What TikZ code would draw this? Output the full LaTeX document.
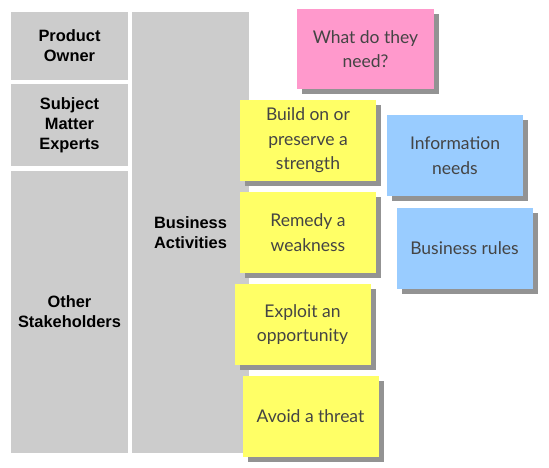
\documentclass[tikz,border=0pt]{standalone}
\usepackage{fontspec}
\setmainfont{Liberation Sans}
\newfontfamily\notefont{Lato}
\usetikzlibrary{shadows}
\definecolor{boxgray}{HTML}{CCCCCC}
\definecolor{noteyellow}{HTML}{FFFF66}
\definecolor{notepink}{HTML}{FF99CC}
\definecolor{noteblue}{HTML}{99CCFF}
\definecolor{shadowgray}{HTML}{939393}
\definecolor{notetext}{HTML}{444444}
\tikzset{
  graybox/.style={fill=boxgray, draw=none, inner sep=0pt, align=center,
    font=\fontsize{16.4}{19.8}\selectfont\bfseries, text=black},
  note/.style={draw=none, inner sep=0pt, minimum width=136pt, minimum height=81pt,
    align=center, text=notetext, font=\notefont\fontsize{17.5}{24.5}\selectfont,
    drop shadow={shadow xshift=5pt, shadow yshift=-5pt, fill=shadowgray, opacity=1}},
  yellownote/.style={note, fill=noteyellow},
  pinknote/.style={note, fill=notepink},
  bluenote/.style={note, fill=noteblue}
}
\begin{document}
\begin{tikzpicture}[x=1pt,y=-1pt]
\useasboundingbox[fill=white] (0,0) rectangle (549,467);
% left column
\node[graybox, minimum width=117pt, minimum height=68pt] (po) at (69.5,46) {Product\\Owner};
\node[graybox, minimum width=117pt, minimum height=82pt] (sme) at (69.5,125) {Subject\\Matter\\Experts};
\node[graybox, minimum width=117pt, minimum height=282pt] (os) at (69.5,312) {Other\\Stakeholders};
\node[graybox, minimum width=117pt, minimum height=441pt] (ba) at (190.5,232.5) {Business\\Activities};
% sticky notes
\node[pinknote, minimum width=137pt, minimum height=80pt] (need) at (365.5,49) {What do they\\need?};
\node[yellownote] (build) at (308,140.5) {Build on or\\preserve a\\strength};
\node[bluenote] (info) at (455,155.5) {Information\\needs};
\node[yellownote] (remedy) at (308,232.5) {Remedy a\\weakness};
\node[bluenote] (rules) at (464.5,248.5) {Business rules};
\node[yellownote] (exploit) at (302.5,324.5) {Exploit an\\opportunity};
\node[yellownote] (avoid) at (310.5,416.5) {Avoid a threat};
\end{tikzpicture}
\end{document}
